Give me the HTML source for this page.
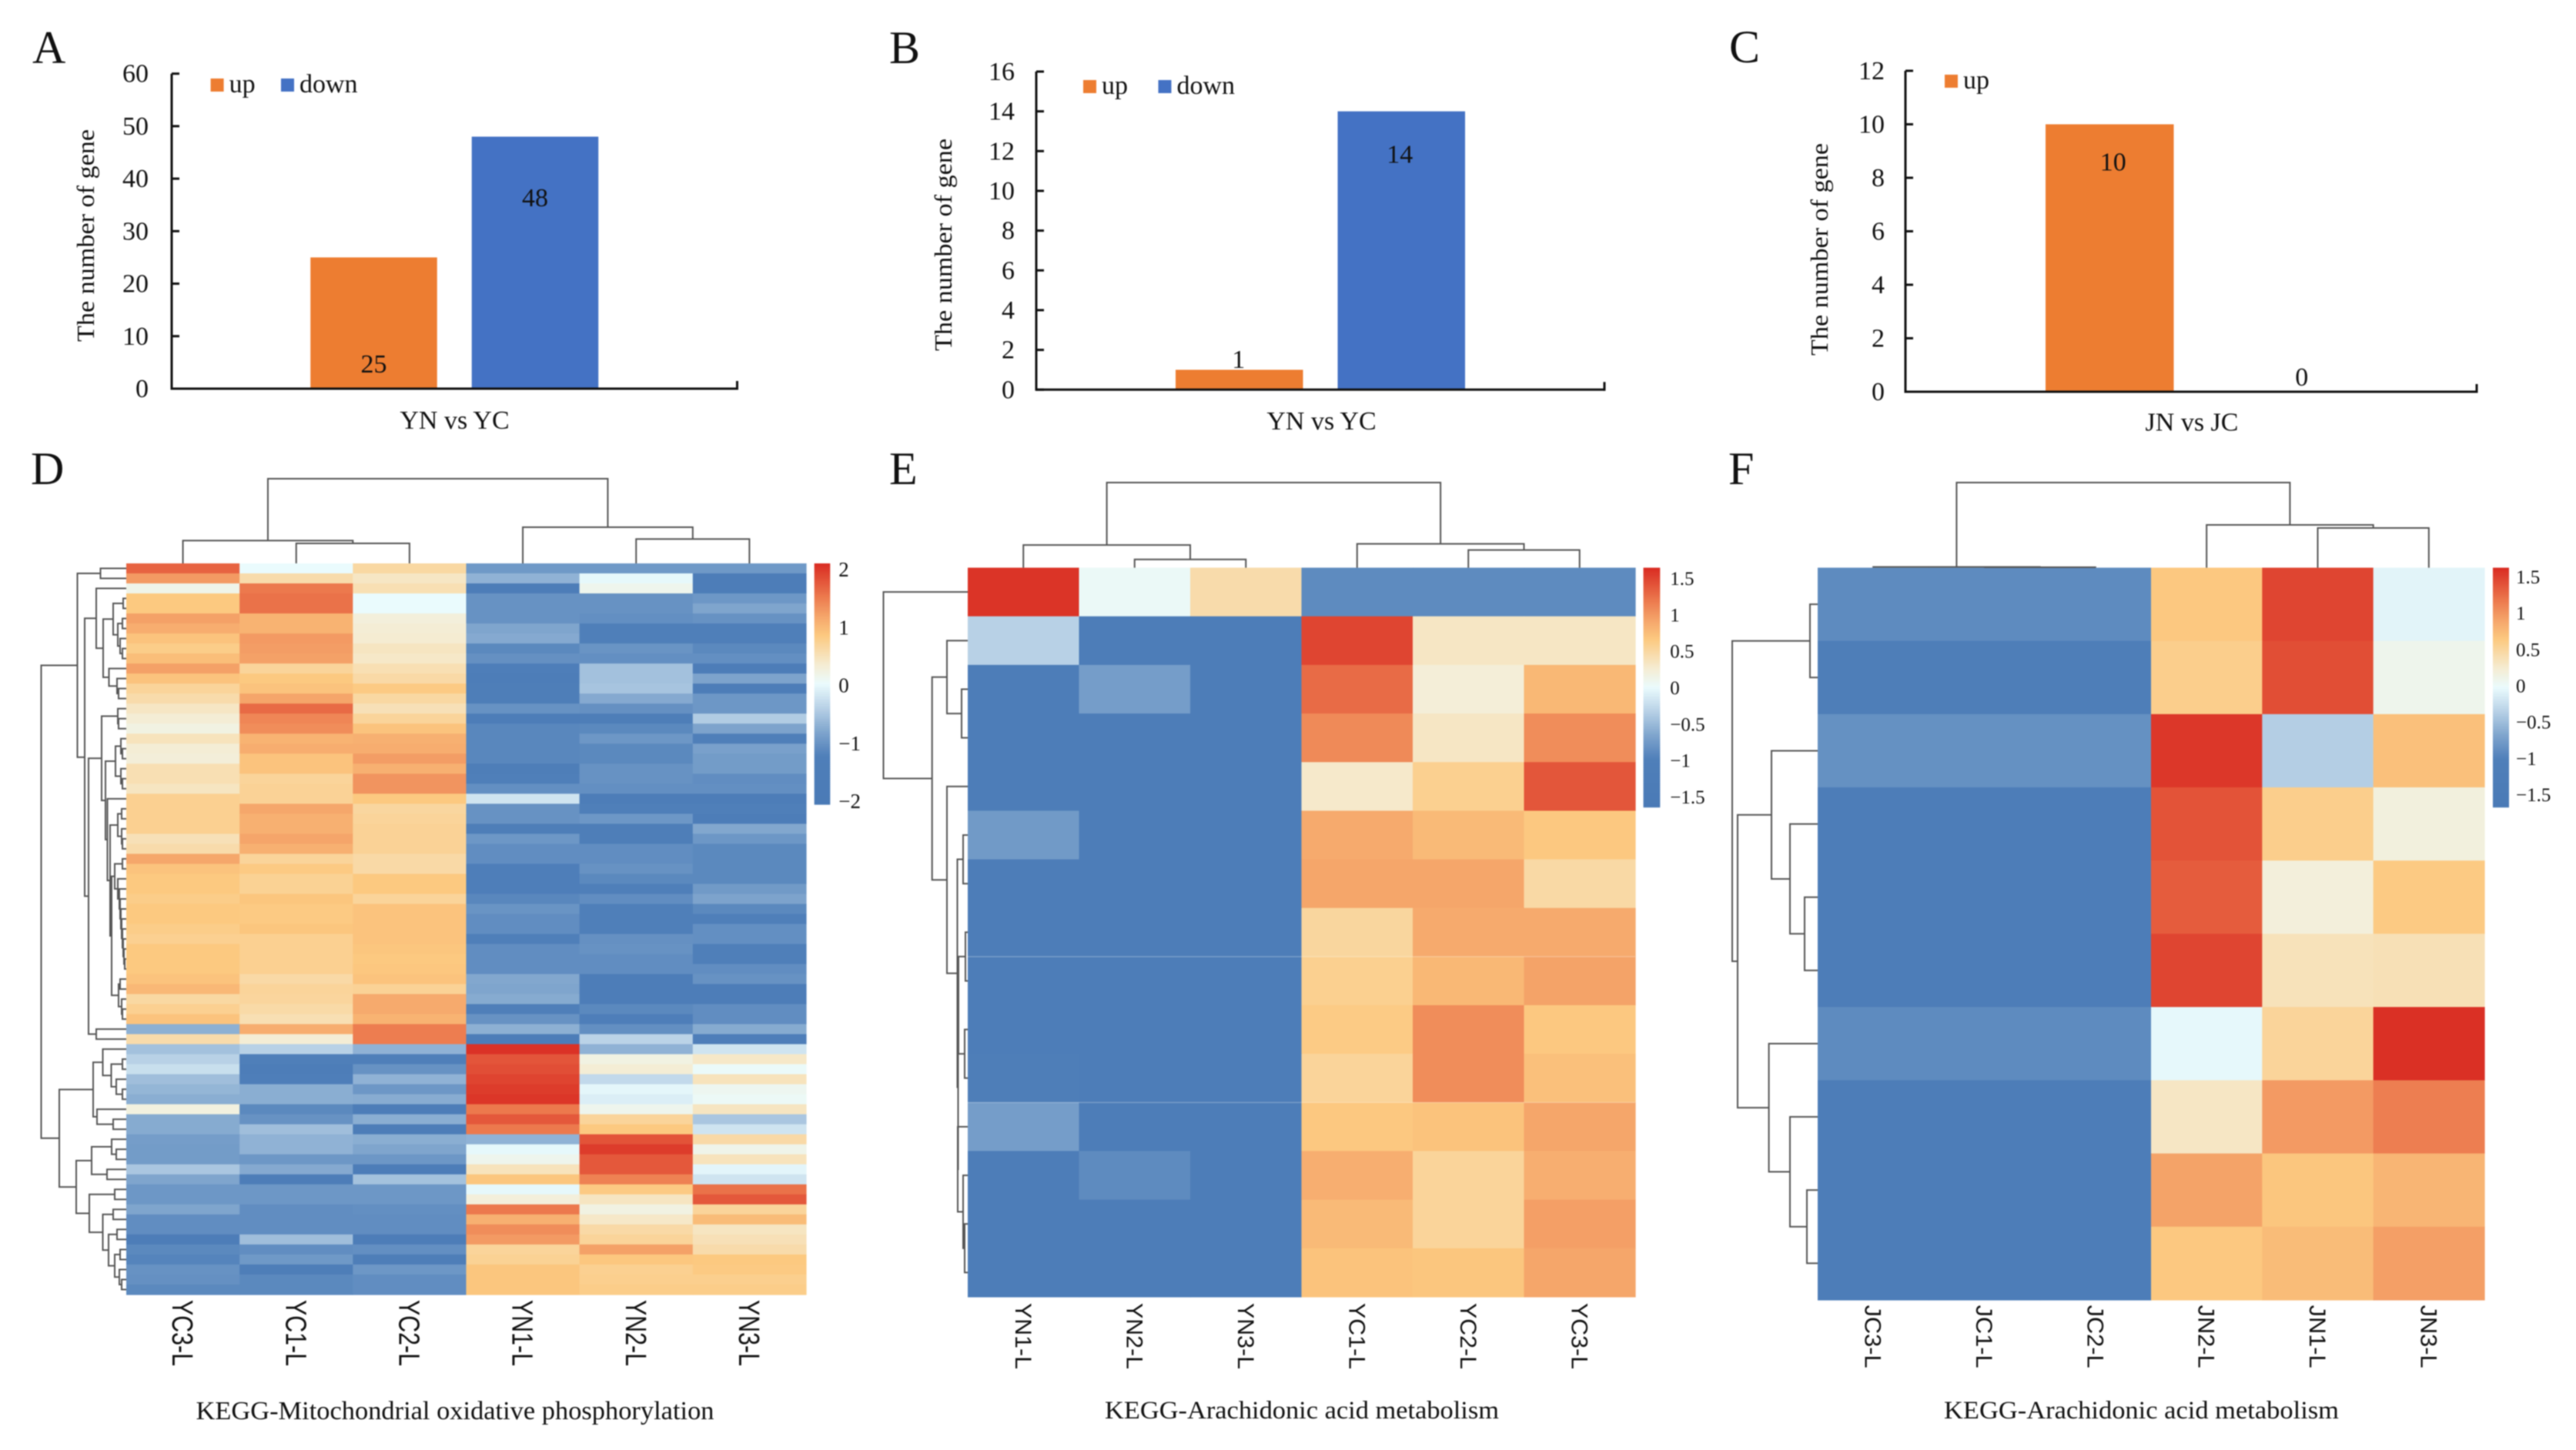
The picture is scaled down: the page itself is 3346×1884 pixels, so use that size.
<!DOCTYPE html>
<html lang="en">
<head>
<meta charset="utf-8">
<title>Gene counts and KEGG heatmaps</title>
<style>
html,body{margin:0;padding:0;background:#fff;}
#figure{display:block;width:3346px;height:1884px;filter:blur(0.7px);}
text{font-family:"Liberation Serif","Times New Roman",serif;fill:#111;}
.sans{font-family:"Liberation Sans",Arial,sans-serif;}
</style>
</head>
<body>
<svg id="figure" xmlns="http://www.w3.org/2000/svg" width="3346" height="1884" viewBox="0 0 3346 1884">
<rect x="0" y="0" width="3346" height="1884" fill="#ffffff"/>
<text x="42" y="82" font-size="60">A</text>
<text x="1155" y="82" font-size="60">B</text>
<text x="2246" y="81" font-size="60">C</text>
<text x="40" y="629" font-size="60">D</text>
<text x="1155" y="629" font-size="60">E</text>
<text x="2245" y="629" font-size="60">F</text>
<text x="254.5" y="1844" font-size="34" textLength="673" lengthAdjust="spacingAndGlyphs">KEGG-Mitochondrial oxidative phosphorylation</text>
<text x="1435" y="1843" font-size="33" textLength="512" lengthAdjust="spacingAndGlyphs">KEGG-Arachidonic acid metabolism</text>
<text x="2525" y="1843" font-size="33" textLength="513" lengthAdjust="spacingAndGlyphs">KEGG-Arachidonic acid metabolism</text>
</svg>
<script>
// ---------- bar chart data ----------
const seriesNames = ['up', 'down'];
const categoryA = 'YN vs YC';
const categoryB = 'YN vs YC';
const categoryC = 'JN vs JC';
const valuesA = [25, 48];
const valuesB = [1, 14];
const valuesC = [10, 0];
const ticksA = [0, 10, 20, 30, 40, 50, 60];
const ticksB = [0, 2, 4, 6, 8, 10, 12, 14, 16];
const ticksC = [0, 2, 4, 6, 8, 10, 12];
const yAxisTitle = 'The number of gene';

// ---------- heatmap D data (z-scores, one array per sample, 73 genes) ----------
const columnLabelsD = ['YC3-L', 'YC1-L', 'YC2-L', 'YN1-L', 'YN2-L', 'YN3-L'];
const yc3D = [1.6,1.2,.15,.8,.8,1.15,1.05,.85,.75,.9,
1.15,.85,.65,.55,.4,.3,.2,.45,.3,.27,
.5,.5,.42,.7,.7,.7,.7,.48,.55,1.1,
.85,.8,.8,.75,.8,.8,.75,.7,.8,.8,
.8,.85,.95,.6,.7,.85,-.7,.55,-.55,-.4,
-.27,-.57,-.65,-.72,.22,-.75,-.75,-.88,-.9,-.9,
-.5,-.8,-.95,-.95,-.8,-1.05,-1.05,-1.5,-1.1,-1.15,
-1,-1.02,-1.1];
const yc1D = [0,.55,1.45,1.5,1.5,1,1,1.2,1.18,1.15,
.65,.8,.85,1.12,1.55,1.35,1.3,1,1.05,.85,
.85,.65,.67,.67,1.1,1.02,1.02,1.12,1.02,.65,
.78,.68,.68,.83,.78,.78,.83,.7,.7,.7,
.7,.58,.65,.63,.57,.5,1.05,.3,-.4,-1.2,
-1.5,-1.3,-.72,-.72,-1.1,-1,-.57,-.68,-.68,-.95,
-.76,-1.5,-.95,-.95,-1.05,-1.05,-1.05,-.57,-1.05,-.93,
-1.35,-1.1,-1.1];
const yc2D = [.6,.4,.5,0,0,.25,.3,.32,.42,.38,
.5,.58,.78,.6,.48,.65,.85,1.02,1.05,1.18,
1.02,1.25,1.25,.8,.62,.65,.67,.67,.67,.58,
.58,.8,.8,.65,.85,.85,.85,.85,.83,.8,
.82,.85,.67,1.08,1.08,1,1.42,1.42,-.68,-1.2,
-1,-.68,-.95,-.74,-1.5,-.72,-1.5,-.72,-.8,-.95,
-1.5,-.54,-.95,-.95,-1.03,-1.05,-1.05,-1.5,-1.03,-1.35,
-.95,-1.05,-1.05];
const yn1D = [-.93,-.68,-1.5,-1,-1,-1,-.8,-.76,-1.1,-1.02,
-1.3,-1.5,-1.35,-1.35,-1,-1.5,-1.12,-1.12,-1.12,-1.12,
-1.35,-1.2,-1.03,-.22,-1,-1,-1.35,-.95,-1.05,-1.05,
-1.3,-1.3,-1.3,-1.12,-.98,-1.05,-1.05,-1.2,-1.05,-1.05,
-1.05,-.78,-.8,-.75,-1.2,-1,-.7,-1.5,1.95,1.7,
1.75,1.82,1.88,1.92,1.45,1.68,1.45,-.68,-.03,.12,
.45,.83,-.03,.25,1.45,1.02,1.3,1.2,.65,.68,
.83,.83,.83];
const yn2D = [-.93,-.03,.12,-1,-1,-1.03,-1.2,-1.2,-.98,-1.03,
-.55,-.55,-.52,-.76,-1.02,-1.35,-1.1,-.95,-1.1,-1.1,
-1,-1,-1.03,-1.5,-1.2,-.95,-1.35,-1.35,-1.05,-1.05,
-1,-1.1,-1.2,-1.05,-1.2,-1.2,-1.2,-1.02,-1,-1.05,
-1.05,-1.5,-1.5,-1.5,-1.1,-1.3,-1.03,-.38,-.68,.2,
.3,-.32,-.05,-.12,.12,.65,.8,1.72,1.88,1.68,
1.68,1.38,.78,.42,.2,.38,.58,.65,1.15,.82,
.7,.72,.75];
const yn3D = [-.93,-1.5,-1.5,-.95,-.8,-1,-1.2,-1.2,-1.1,-1.03,
-1.5,-.82,-1.5,-.95,-.95,-.45,-.82,-1.2,-.85,-.9,
-.9,-1.05,-1.03,-1.5,-1.2,-1.5,-.78,-.95,-1.1,-1.1,
-1.1,-1.1,-.92,-.82,-1.1,-1.2,-1.03,-1.03,-1.2,-1.2,
-1.05,-1,-1.5,-1.5,-1.05,-1.05,-.75,-1.3,-.22,.38,
.03,.45,.1,.05,.42,-.5,-.22,.58,.15,.45,
-.06,-.22,1.5,1.68,.65,.92,.42,.48,.55,.8,
.78,.72,.75];
const colorbarTicksD = [2, 1, 0, -1, -2];

// ---------- heatmap E data (one array per gene) ----------
const columnLabelsE = ['YN1-L', 'YN2-L', 'YN3-L', 'YC1-L', 'YC2-L', 'YC3-L'];
const matrixE = [
[1.6,.06,.47,-.85,-.85,-.85],
[-.3,-1.27,-1.27,1.5,.35,.35],
[-1.27,-.69,-1.27,1.28,.25,.8],
[-1.27,-1.27,-1.27,1.1,.35,1.08],
[-1.27,-1.27,-1.27,.32,.6,1.4],
[-.72,-1.25,-1.25,.9,.78,.68],
[-1.27,-1.27,-1.27,.93,.93,.5],
[-1.27,-1.27,-1.27,.53,.9,.9],
[-1.27,-1.27,-1.27,.6,.8,.95],
[-1.15,-1.27,-1.27,.65,1.08,.68],
[-1.1,-1.27,-1.27,.55,1.08,.74],
[-.69,-1.27,-1.27,.68,.72,.93],
[-1.27,-.85,-1.27,.87,.55,.87],
[-1.27,-1.27,-1.27,.78,.55,.97],
[-1.25,-1.25,-1.22,.72,.7,.93]
];
const colorbarTicksE = [1.5, 1, 0.5, 0, -0.5, -1, -1.5];

// ---------- heatmap F data (one array per gene) ----------
const columnLabelsF = ['JC3-L', 'JC1-L', 'JC2-L', 'JN2-L', 'JN1-L', 'JN3-L'];
const matrixF = [
[-.85,-.85,-.85,.68,1.5,-.03],
[-1.1,-1.1,-1.1,.62,1.45,.13],
[-.8,-.8,-.8,1.58,-.32,.74],
[-1.27,-1.27,-1.27,1.42,.62,.22],
[-1.27,-1.27,-1.27,1.37,.23,.66],
[-1.27,-1.27,-1.27,1.5,.4,.42],
[-.85,-.85,-.85,0,.55,1.62],
[-1.27,-1.27,-1.27,.35,1,1.17],
[-1.27,-1.27,-1.27,.95,.7,.82],
[-1.27,-1.27,-1.27,.68,.77,.97]
];
const colorbarTicksF = [1.5, 1, 0.5, 0, -0.5, -1, -1.5];

// ---------- dendrograms: [distance, childA, childB], 0 = next leaf ----------
const rowTreeD = [110.5,
 [63.5,[33.5,0,0],
  [54,
   [39,0,[30,
     [17,[4,0,0],[11,[5,0,0],[8,0,[5,0,0]]]],
     [22.5,0,[12,0,[10,0,0]]]]],
   [49,
    [32,
     [11,0,[10,0,0]],
     [27,
      [14,[7,0,[5,0,0]],[7,0,[5,0,0]]],
      [24.5,0,[21,
       [11,[6,0,0],[6,0,[5,0,0]]],
       [19,
        [15,[5,0,0],[11,0,[9,0,[8,0,[7,0,[6,0,[5,0,[4,0,[3,0,[2,0,0]]]]]]]]]],
        [10,[8,0,0],[6,0,[5,0,0]]]]]]]],
    [39,0,0]]]],
 [87,
  [43,
   [30.5,0,[19.5,[5,0,0],[13,0,[5,0,0]]]],
   [38,0,[17,0,0]]],
  [65,
   [45,[19,0,[13,0,0]],[25,0,0]],
   [48,[15,0,0],[30.5,[17,0,0],[23,[12,0,0],[15,[8,0,0],[9,0,[6,0,0]]]]]]]]];
const colTreeD = [110,[29.6,0,[26,0,0]],[47,0,[31.6,0,0]]];
const rowTreeE = [109.5,0,[46.3,
  [27,0,[8,0,0]],
  [27,0,[13.5,[6,0,0],[12.5,[12,[3,0,0],[4,0,0]],[13,0,[6,0,[4,0,0]]]]]]]];
const colTreeE = [110.6,[29.5,0,[10.7,0,0]],[31,0,[23,0,0]]];
const rowTreeF = [111,[10,0,0],[104,
  [60,0,[36,0,[17,0,0]]],
  [63.4,0,[36,0,[14,0,0]]]]];
const colTreeF = [110.6,[1,0,[.6,0,0]],[55.6,0,[51.6,0,0]]];

// ---------- assembled matrices ----------
const columnsD = [yc3D, yc1D, yc2D, yn1D, yn2D, yn3D];
const matrixD = yc3D.map(function (_, r) { return columnsD.map(function (c) { return c[r]; }); });

const NS = 'http://www.w3.org/2000/svg';
const figure = document.getElementById('figure');
function svgEl(tag, parent) {
  const n = document.createElementNS(NS, tag);
  parent.appendChild(n);
  return n;
}
function setAll(n, attrs) {
  Object.keys(attrs).forEach(function (k) { n.setAttribute(k, attrs[k]); });
}

// colour ramp as seen on the colour bars (position 0..1 from bottom to top)
const rampStops = [[0,'#4a7ab6'],[.2,'#4f7fb9'],[.3,'#7fa5cd'],[.4,'#b8d1e6'],[.5,'#eafbfd'],[.58,'#f5ecd2'],[.7,'#fcc980'],[.78,'#f5a56a'],[.86,'#ec7a4e'],[1,'#d92b22']];
function hexRgb(h) { return [parseInt(h.substr(1,2),16), parseInt(h.substr(3,2),16), parseInt(h.substr(5,2),16)]; }
function ramp(t) {
  t = Math.max(0, Math.min(1, t));
  for (let i = 1; i < rampStops.length; i++) {
    if (t <= rampStops[i][0]) {
      const a = rampStops[i-1], b = rampStops[i];
      const f = (t - a[0]) / (b[0] - a[0]);
      const ca = hexRgb(a[1]), cb = hexRgb(b[1]);
      return 'rgb(' + ca.map(function (v, k) { return Math.round(v + (cb[k] - v) * f); }).join(',') + ')';
    }
  }
  return rampStops[rampStops.length - 1][1];
}

function drawBarChart(c) {
  const g = svgEl('g', figure);
  
  
  const top = c.plot.top, bottom = c.plot.bottom, left = c.plot.left, right = c.plot.right;
  const maxTick = c.ticks[c.ticks.length - 1];
  const yScale = function (v) { return bottom - (v / maxTick) * (bottom - top); };
  const midX = (left + right) / 2;
  const slot = c.barWidth + c.gap;
  const barX = function (i) { return midX + (i - c.values.length / 2) * slot + c.gap / 2; };

  c.values.forEach(function (v, i) {
    const bar = svgEl('rect', g);
    setAll(bar, { x: barX(i), y: yScale(v), width: c.barWidth, height: bottom - yScale(v), fill: c.colors[i] });
    
    
    const lab = svgEl('text', g);
    setAll(lab, { x: barX(i) + c.barWidth / 2 + c.labelDx[i], y: yScale(v) + c.labelDy[i], 'font-size': 34, 'text-anchor': 'middle' });
    lab.textContent = String(v);
    
    
  });

  const axisY = svgEl('line', g);
  setAll(axisY, { x1: left, y1: top, x2: left, y2: bottom + 1.5, stroke: '#111', 'stroke-width': 3 });
  
  
  const axisX = svgEl('line', g);
  setAll(axisX, { x1: left, y1: bottom, x2: right, y2: bottom, stroke: '#111', 'stroke-width': 3 });
  
  
  const endTick = svgEl('line', g);
  setAll(endTick, { x1: right, y1: bottom + 1.5, x2: right, y2: bottom - 10, stroke: '#111', 'stroke-width': 3 });
  
  

  c.ticks.forEach(function (t) {
    const tick = svgEl('line', g);
    setAll(tick, { x1: left, y1: yScale(t), x2: left + 10, y2: yScale(t), stroke: '#111', 'stroke-width': 3 });
    
    
    const lab = svgEl('text', g);
    setAll(lab, { x: c.tickRight, y: yScale(t) + 11, 'font-size': 34, 'text-anchor': 'end' });
    lab.textContent = String(t);
    
    
  });

  const title = svgEl('text', g);
  setAll(title, { x: c.titleX, y: c.titleY, 'font-size': 32, 'text-anchor': 'middle', textLength: 276, lengthAdjust: 'spacingAndGlyphs', transform: 'rotate(-90 ' + c.titleX + ' ' + c.titleY + ')' });
  title.textContent = yAxisTitle;
  
  

  const xt = svgEl('text', g);
  setAll(xt, { x: c.catX, y: c.catY, 'font-size': 34, 'text-anchor': 'middle' });
  xt.textContent = c.category;
  
  

  c.legend.forEach(function (item, i) {
    const sw = svgEl('rect', g);
    setAll(sw, { x: item.x, y: item.y, width: 17, height: 17, fill: c.colors[i] });
    
    
    const t = svgEl('text', g);
    setAll(t, { x: item.x + 24, y: item.y + 18, 'font-size': 34 });
    t.textContent = seriesNames[i];
    
    
  });
}

function drawTree(g, tree, leafPos, distPos, orient) {
  let nextLeaf = 0;
  function walk(node) {
    if (!Array.isArray(node)) { const p = leafPos(nextLeaf); nextLeaf += 1; return { c: p, d: 0 }; }
    const a = walk(node[1]);
    const b = walk(node[2]);
    const h = distPos(node[0]);
    const path = svgEl('path', g);
    const da = distPos(a.d), db = distPos(b.d);
    const dStr = orient === 'row'
      ? 'M' + da + ' ' + a.c + 'H' + h + 'V' + b.c + 'H' + db
      : 'M' + a.c + ' ' + da + 'V' + h + 'H' + b.c + 'V' + db;
    setAll(path, { d: dStr, fill: 'none', stroke: '#555', 'stroke-width': 2 });
    
    
    return { c: (a.c + b.c) / 2, d: node[0] };
  }
  walk(tree);
}

function drawHeatmap(c) {
  const g = svgEl('g', figure);
  
  
  const nRows = c.matrix.length, nCols = c.labels.length;
  const rowH = c.h / nRows, colW = c.w / nCols;
  const colorT = function (v) { return (v - c.vmin) / (c.vmax - c.vmin); };

  c.matrix.forEach(function (row, r) {
    row.forEach(function (v, k) {
      const cell = svgEl('rect', g);
      setAll(cell, { x: c.x + k * colW, y: c.y + r * rowH, width: colW + .6, height: rowH + .6, fill: ramp(colorT(v)) });
      
      
    });
  });

  (c.separators || []).forEach(function (r) {
    const sep = svgEl('rect', g);
    setAll(sep, { x: c.x, y: c.y + r * rowH - .5, width: c.w, height: 1.2, fill: 'rgba(255,255,255,.3)' });
    
    
  });

  c.labels.forEach(function (txt, k) {
    const cx = c.x + (k + .5) * colW - c.labelCap / 2;
    const lab = svgEl('text', g);
    setAll(lab, { x: cx, y: c.labelY, 'font-size': c.labelSize, textLength: c.labelLen, lengthAdjust: 'spacingAndGlyphs', transform: 'rotate(90 ' + cx + ' ' + c.labelY + ')', class: 'sans' });
    lab.textContent = txt;
    
    
  });

  drawTree(g, c.rowTree, function (i) { return c.y + (i + .5) * rowH; }, function (d) { return c.x - d; }, 'row');
  drawTree(g, c.colTree, function (i) { return c.x + (i + .5) * colW; }, function (d) { return c.y - d; }, 'col');

  const steps = 120;
  for (let i = 0; i < steps; i++) {
    const seg = svgEl('rect', g);
    setAll(seg, { x: c.bar.x, y: c.bar.y + c.bar.h * i / steps, width: c.bar.w, height: c.bar.h / steps + .6, fill: ramp(1 - (i + .5) / steps) });
    
    
  }
  const tMax = c.ticks[0], tMin = c.ticks[c.ticks.length - 1];
  const tickY = function (v) { return c.tickTop + (tMax - v) / (tMax - tMin) * (c.tickBottom - c.tickTop); };
  c.ticks.forEach(function (v) {
    const lab = svgEl('text', g);
    setAll(lab, { x: c.bar.x + c.bar.w + c.tickGap, y: tickY(v) + 8, 'font-size': c.tickSize });
    lab.textContent = String(v).replace('-', '\u2212');
    
    
  });
}

const barOrange = '#ed7d31';
const barBlue = '#4472c4';

drawBarChart({ name: 'bar-chart-a', values: valuesA, ticks: ticksA, category: categoryA, colors: [barOrange, barBlue],
  plot: { left: 223, right: 957.5, top: 95.7, bottom: 505 }, barWidth: 164.5, gap: 45,
  labelDx: [0, 0], labelDy: [149.5, 90.4], tickRight: 193, titleX: 122, titleY: 306, catX: 590.5, catY: 557,
  legend: [{ x: 273.6, y: 102 }, { x: 365, y: 102 }] });
drawBarChart({ name: 'bar-chart-b', values: valuesB, ticks: ticksB, category: categoryB, colors: [barOrange, barBlue],
  plot: { left: 1346, right: 2084, top: 93, bottom: 506.3 }, barWidth: 165.5, gap: 45,
  labelDx: [-1, -2], labelDy: [-2.5, 67], tickRight: 1318, titleX: 1236, titleY: 318, catX: 1716.5, catY: 558,
  legend: [{ x: 1407, y: 104 }, { x: 1504.5, y: 104 }] });
drawBarChart({ name: 'bar-chart-c', values: valuesC, ticks: ticksC, category: categoryC, colors: [barOrange],
  plot: { left: 2475, right: 3217, top: 92, bottom: 509 }, barWidth: 166.5, gap: 45,
  labelDx: [4.5, 38], labelDy: [60, -8], tickRight: 2448, titleX: 2374, titleY: 324, catX: 2847, catY: 559.5,
  legend: [{ x: 2526, y: 97 }] });

drawHeatmap({ name: 'heatmap-d', matrix: matrixD, labels: columnLabelsD, x: 164, y: 732, w: 883, h: 950, vmin: -2, vmax: 2,
  rowTree: rowTreeD, colTree: colTreeD, labelY: 1689, labelSize: 38, labelLen: 86, labelCap: 27,
  bar: { x: 1057.7, y: 732, w: 20.6, h: 313 }, ticks: colorbarTicksD, tickTop: 741, tickBottom: 1042, tickGap: 11, tickSize: 27 });
drawHeatmap({ name: 'heatmap-e', matrix: matrixE, labels: columnLabelsE, x: 1257, y: 737.6, w: 867, h: 947.4, vmin: -1.6, vmax: 1.65,
  rowTree: rowTreeE, colTree: colTreeE, labelY: 1693, labelSize: 30, labelLen: 86, labelCap: 21, separators: [8, 11],
  bar: { x: 2134.6, y: 737.6, w: 21.7, h: 311 }, ticks: colorbarTicksE, tickTop: 752, tickBottom: 1036, tickGap: 13, tickSize: 25 });
drawHeatmap({ name: 'heatmap-f', matrix: matrixF, labels: columnLabelsF, x: 2361, y: 737.6, w: 866, h: 951.4, vmin: -1.6, vmax: 1.65,
  rowTree: rowTreeF, colTree: colTreeF, labelY: 1695.6, labelSize: 30, labelLen: 82, labelCap: 21,
  bar: { x: 3238, y: 737.6, w: 21, h: 311 }, ticks: colorbarTicksF, tickTop: 750, tickBottom: 1033, tickGap: 9, tickSize: 25 });
</script>
</body>
</html>
